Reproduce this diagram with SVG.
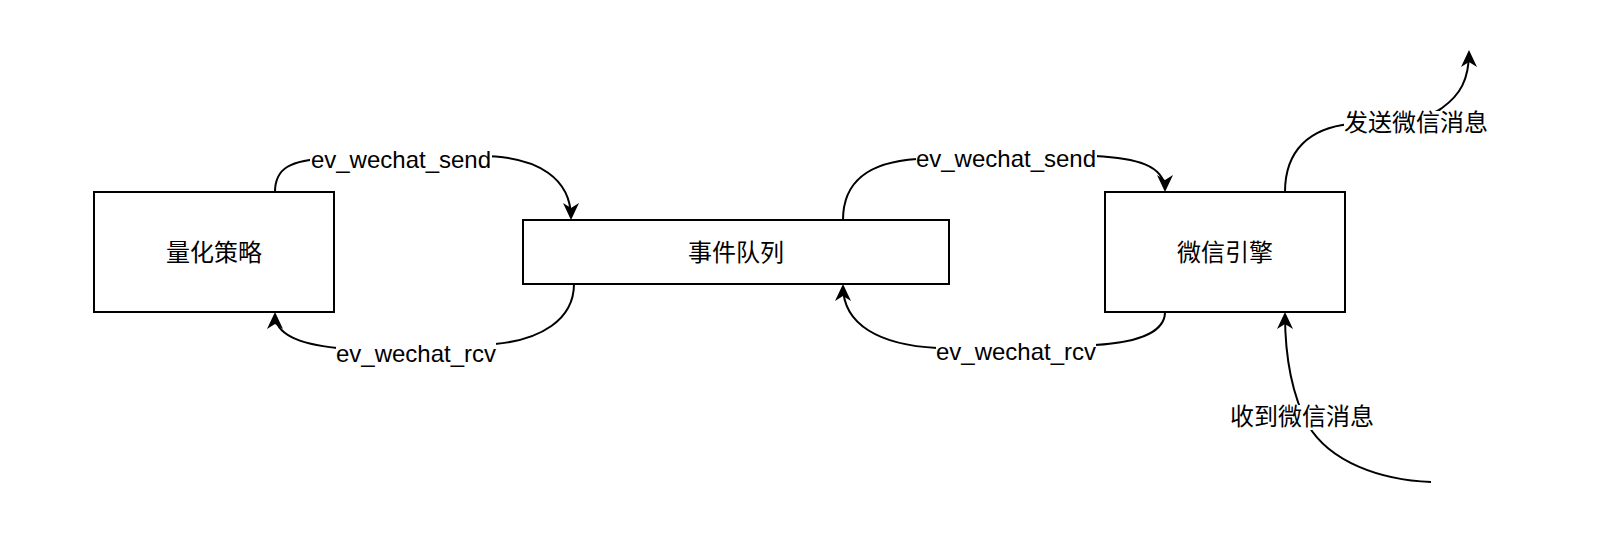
<svg xmlns="http://www.w3.org/2000/svg" width="1608" height="536" viewBox="0 0 1608 536">
<defs>
<style>
.box{fill:#fff;stroke:#000;stroke-width:2}
.edge{fill:none;stroke:#000;stroke-width:2;marker-end:url(#arr)}
.edge2{fill:none;stroke:#000;stroke-width:2}
.lbl{font-family:"Liberation Sans",Arial,"Noto Sans CJK SC",sans-serif;font-size:24px;fill:#000;text-anchor:middle}
.cjk{font-family:"Noto Sans CJK SC","Liberation Sans",sans-serif;font-size:24px;fill:#000;text-anchor:middle}
.bg{fill:#fff}
</style>
<marker id="arr" markerUnits="userSpaceOnUse" viewBox="0 0 17 16" refX="15" refY="8" markerWidth="17" markerHeight="16" orient="auto">
<path d="M17,8 L0,0 L5,8 L0,16 Z" fill="#000"/>
</marker>
</defs>
<rect width="1608" height="536" fill="#fff"/>
<g id="connectors">
<path class="edge" d="M275,192 C275,168 290,160 330,158 L480,156 C540,156 571,180 571,218"/>
<path class="edge" d="M574,284 C574,320 540,340 495,344 L337,348 C300,344 275,335 275,314"/>
<path class="edge" d="M843,220 C843,180 870,162 917,159 L1095,156 C1135,158 1165,165 1165,190"/>
<path class="edge" d="M1165,312 C1165,335 1130,343 1095,345 L937,348 C880,345 843,325 843,286"/>
<path class="edge" d="M1285,192 C1285,150 1310,128 1350,124 C1400,120 1430,118 1442,108 C1460,95 1469,80 1469,52"/>
<path class="edge" d="M1431,482 C1380,480 1330,462 1308,425 C1292,395 1285,360 1285,314"/>
<g id="label-send-1"><rect class="bg" x="310" y="148" width="182" height="24"/><text class="lbl" x="401" y="168">ev_wechat_send</text></g>
<g id="label-rcv-1"><rect class="bg" x="336" y="340" width="160" height="26"/><text class="lbl" x="416" y="362">ev_wechat_rcv</text></g>
<g id="label-send-2"><rect class="bg" x="916" y="147" width="181" height="24"/><text class="lbl" x="1006" y="167">ev_wechat_send</text></g>
<g id="label-rcv-2"><rect class="bg" x="936" y="338" width="160" height="26"/><text class="lbl" x="1016" y="360">ev_wechat_rcv</text></g>
<g id="label-out"><rect class="bg" x="1344" y="111" width="145" height="25"/><text class="cjk" x="1416" y="131">发送微信消息</text></g>
<g id="label-in"><rect class="bg" x="1230" y="405" width="144" height="25"/><text class="cjk" x="1302" y="425">收到微信消息</text></g>
</g>
<g id="node-strategy"><rect class="box" x="94" y="192" width="240" height="120"/><text class="cjk" x="214" y="261">量化策略</text></g>
<g id="node-queue"><rect class="box" x="523" y="220" width="426" height="64"/><text class="cjk" x="736" y="261">事件队列</text></g>
<g id="node-wechat"><rect class="box" x="1105" y="192" width="240" height="120"/><text class="cjk" x="1225" y="261">微信引擎</text></g>
</svg>
